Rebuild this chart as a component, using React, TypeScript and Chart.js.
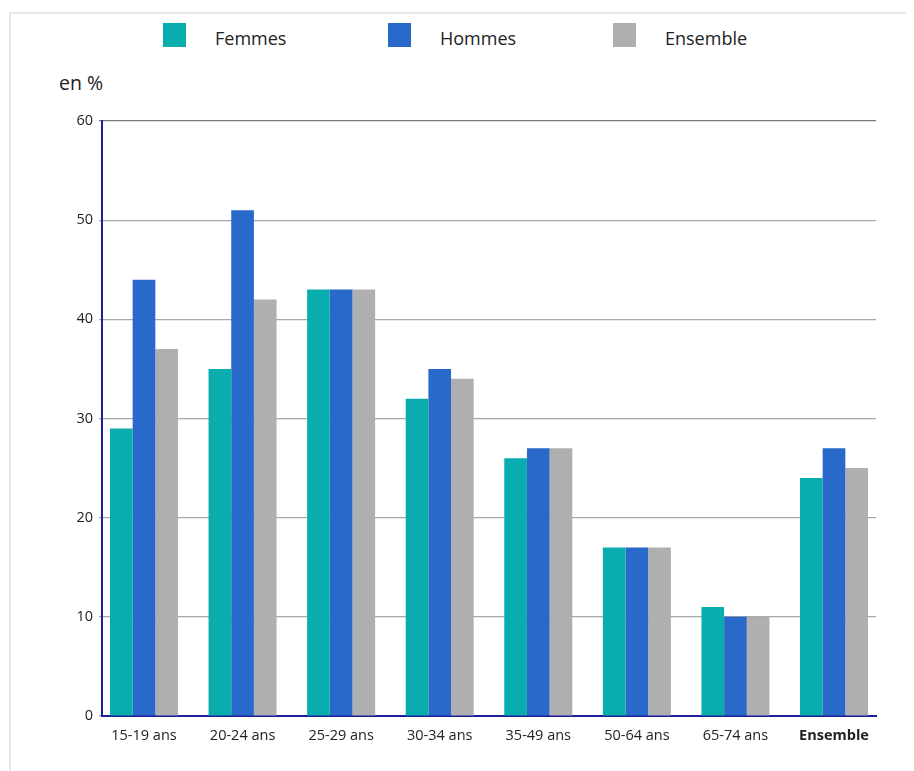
import React, { useEffect, useRef } from "react";
import { Chart, registerables } from "chart.js";

Chart.register(...registerables);

const categories = ["15-19 ans", "20-24 ans", "25-29 ans", "30-34 ans", "35-49 ans", "50-64 ans", "65-74 ans", "Ensemble"];
const femmes = [29, 35, 43, 32, 26, 17, 11, 24];
const hommes = [44, 51, 43, 35, 27, 17, 10, 27];
const ensemble = [37, 42, 43, 34, 27, 17, 10, 25];
const yTicks = [0, 10, 20, 30, 40, 50, 60];

const seriesNames = ["Femmes", "Hommes", "Ensemble"];
const colors = ["#0AADAD", "#2969C9", "#B0AFB0"];
const FONT = "'Open Sans', 'Noto Sans', sans-serif";

export default function App() {
  const ref = useRef<HTMLCanvasElement | null>(null);

  useEffect(() => {
    if (!ref.current) return;
    const chart = new Chart(ref.current, {
      type: "bar",
      data: {
        datasets: [femmes, hommes, ensemble].map((d, i) => ({
          label: seriesNames[i],
          data: d.map((v, k) => ({ x: k, y: v })),
          backgroundColor: colors[i],
          borderWidth: 0,
          categoryPercentage: 0.69,
          barPercentage: 1,
        })),
      },
      options: {
        animation: false,
        responsive: true,
        maintainAspectRatio: false,
        layout: { padding: { top: 113, right: 38, left: 0, bottom: 0 } },
        plugins: { legend: { display: false }, tooltip: { enabled: false } },
        scales: {
          x: {
            type: "linear",
            min: -0.426,
            max: categories.length - 1 + 0.426,
            offset: false,
            afterBuildTicks: (s: any) => {
              s.ticks = categories.map((_, k) => ({ value: k }));
            },
            grid: { display: false },
            border: { display: true, color: "#1E1E9A", width: 2 },
            ticks: {
              color: "#222",
              padding: 3,
              autoSkip: false,
              maxRotation: 0,
              callback: (v: any) => categories[Math.round(Number(v))] ?? "",
              font: (ctx: any) => ({
                family: FONT,
                size: 14.5,
                weight: ctx.index === categories.length - 1 ? "bold" : "normal",
              }),
            },
            afterFit: (s: any) => {
              s.height = 55;
            },
          },
          y: {
            min: 0,
            max: 60,
            afterBuildTicks: (s: any) => {
              s.ticks = yTicks.map((v) => ({ value: v }));
            },
            grid: {
              color: (ctx: any) => (ctx.tick && ctx.tick.value === 60 ? "#7a7a7a" : "#a8a8a8"),
              lineWidth: 1.2,
              tickLength: 3,
            },
            border: { display: true, color: "#1E1E9A", width: 2 },
            ticks: {
              color: "#222",
              padding: 6,
              font: { family: FONT, size: 14.5 },
            },
            afterFit: (s: any) => {
              s.width = 94;
            },
          },
        },
      },
    });
    return () => chart.destroy();
  }, []);

  return (
    <div style={{ position: "relative", width: 906, height: 763, fontFamily: FONT }}>
      <div
        style={{
          position: "absolute",
          left: 1,
          top: 4,
          width: 920,
          height: 800,
          borderTop: "2px solid #e8e8e8",
          borderLeft: "2px solid #e8e8e8",
          boxSizing: "border-box",
        }}
      />
      <div style={{ position: "absolute", left: 155, top: 15, display: "flex" }}>
        {seriesNames.map((n, i) => (
          <div key={n} style={{ width: 225, display: "flex", alignItems: "center", height: 24 }}>
            <span style={{ width: 23, height: 24, background: colors[i], display: "inline-block" }} />
            <span style={{ marginLeft: 29, fontSize: 18, color: "#222", lineHeight: "24px", position: "relative", top: 3 }}>{n}</span>
          </div>
        ))}
      </div>
      <div style={{ position: "absolute", left: 51, top: 62, fontSize: 19.5, color: "#222", lineHeight: "26px" }}>en %</div>
      <div style={{ position: "absolute", left: 0, top: 0, width: 906, height: 763 }}>
        <canvas ref={ref} />
      </div>
    </div>
  );
}
